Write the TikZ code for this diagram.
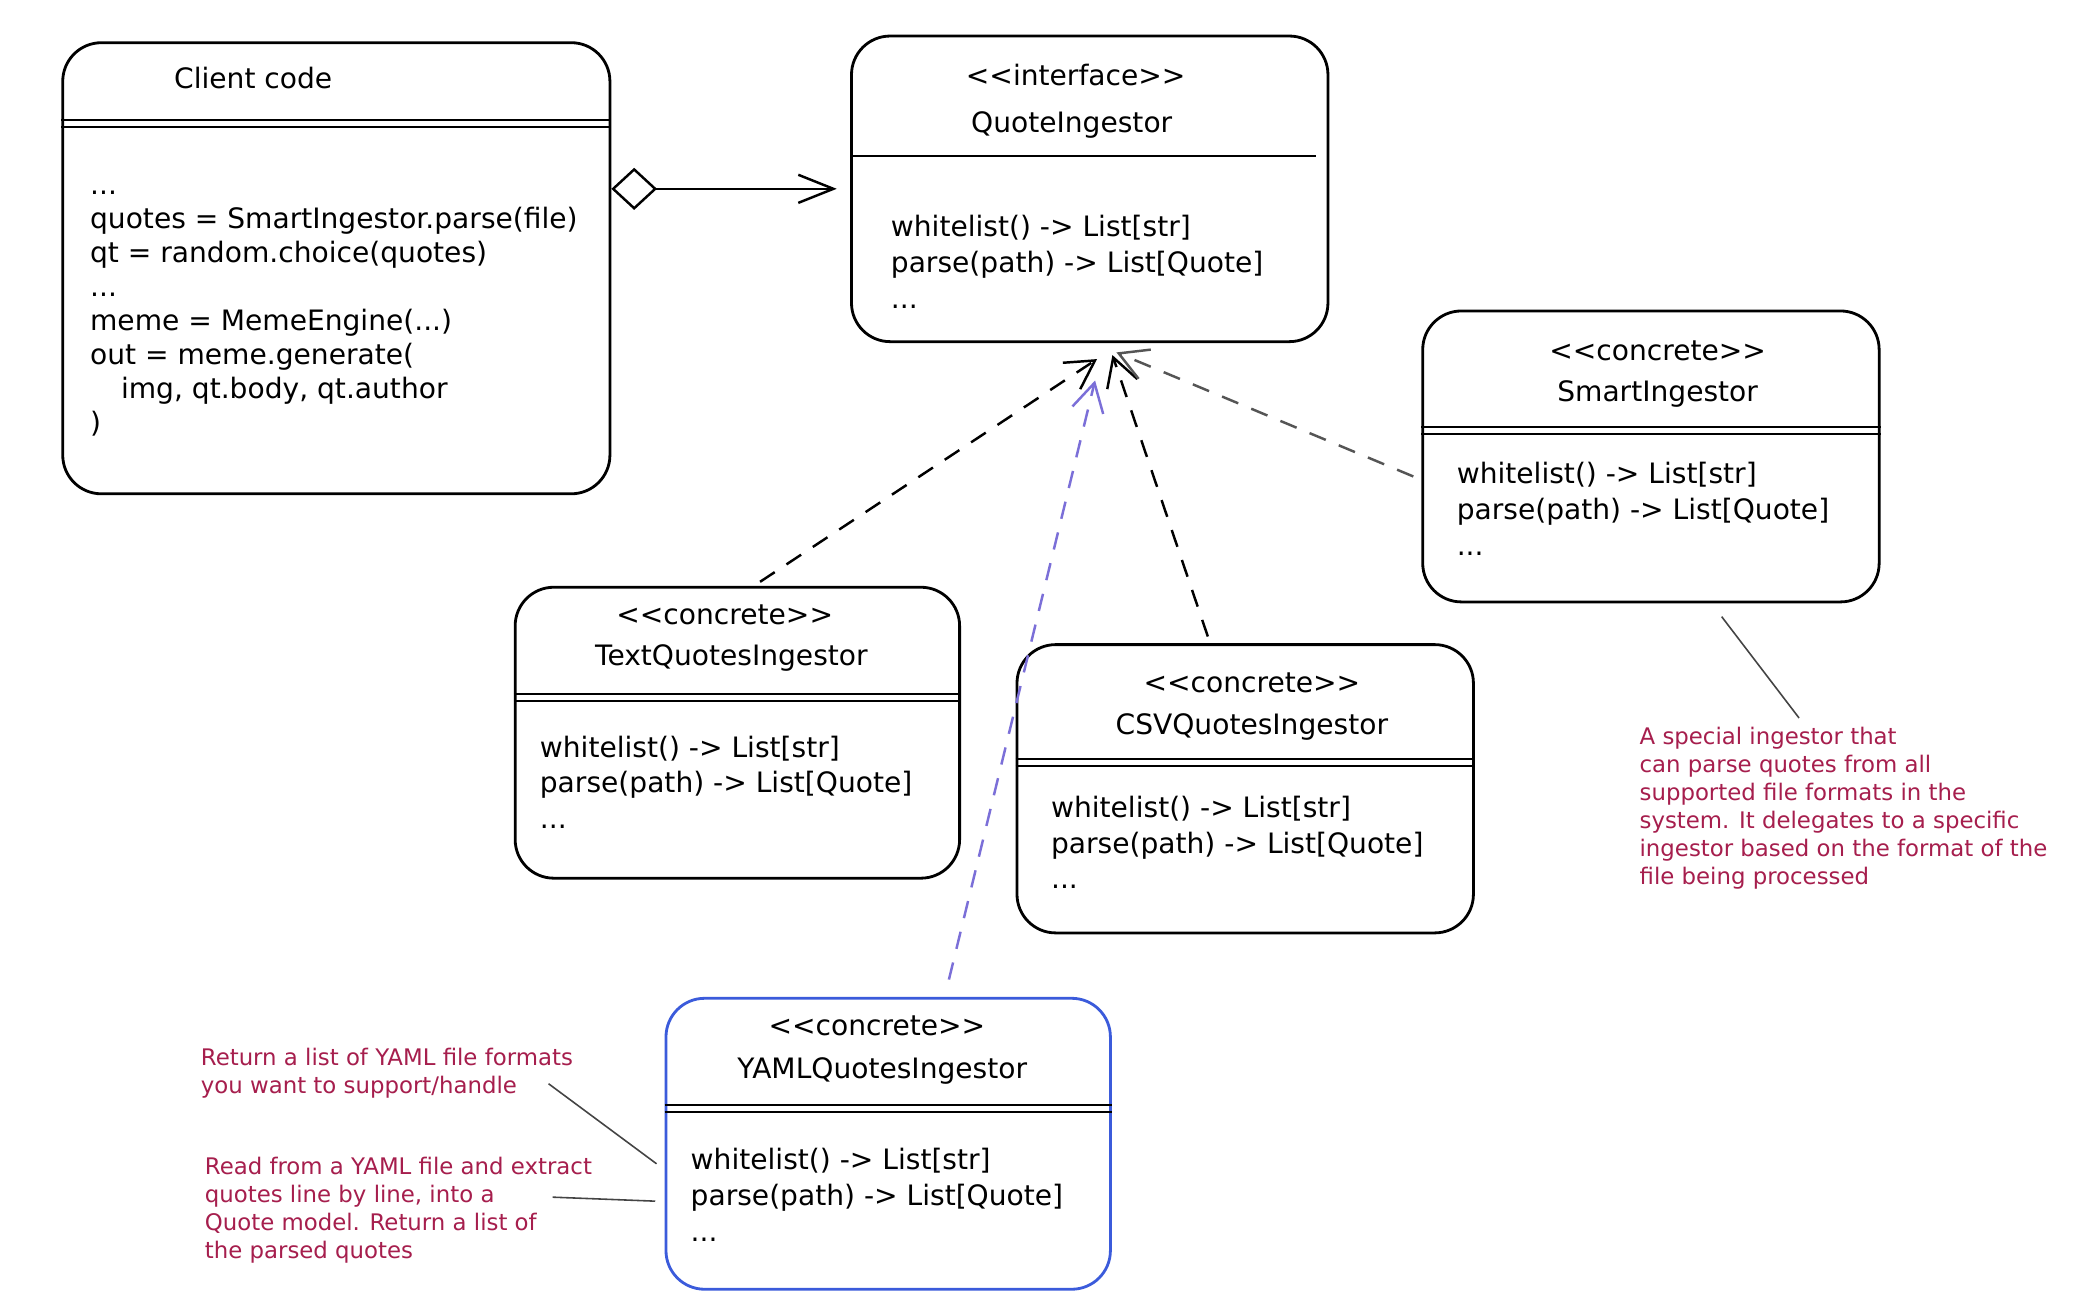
\documentclass[tikz,border=0pt]{standalone}
\usepackage{fontspec}
\setmainfont{DejaVu Sans}
\usetikzlibrary{arrows.meta,fit,calc}
\definecolor{notecol}{HTML}{A61E4D}
\definecolor{yamlblue}{HTML}{3B5BDB}
\definecolor{violetline}{HTML}{7B6FD8}
\definecolor{grayline}{HTML}{555555}
\definecolor{thinline}{HTML}{444444}
\newcommand{\stereoopen}{<\kern0pt<}
\newcommand{\stereoclose}{>\kern0pt>}
\begin{document}
\begin{tikzpicture}[x=0.013346cm,y=-0.013346cm,
  cls/.style={draw, line width=0.8pt, rounded corners=11pt, inner sep=0pt},
  txt/.style={font=\fontsize{8}{9.7}\selectfont, inner sep=0pt},
  codeblock/.style={font=\fontsize{8}{9.7}\selectfont, align=left, anchor=north west, inner sep=0pt},
  methblock/.style={font=\fontsize{8}{10.2}\selectfont, align=left, anchor=north west, inner sep=0pt},
  notetext/.style={font=\fontsize{6.5}{7.95}\selectfont, text=notecol, align=left, anchor=north west, inner sep=0pt},
  sepline/.style={line width=0.6pt},
  realize/.style={line width=0.7pt, dash pattern=on 5pt off 4pt, -{Straight Barb[length=8pt,width=9pt]}},
  notelink/.style={line width=0.45pt, draw=thinline},
  aggr/.style={line width=0.7pt, {Diamond[open,length=13pt,width=12pt]}-{Straight Barb[length=10pt,width=8pt]}}
]
\path[use as bounding box, fill=white] (0,0) rectangle (1560,981.5);

% ---------- Client code ----------
\node[cls, fit={(47,32) (457,370)}] (client) {};
\node[txt, anchor=base west] (clienttitle) at (130,66) {Client code};
\draw[sepline] (client.west |- 0,90) -- (client.east |- 0,90);
\draw[sepline] (client.west |- 0,95) -- (client.east |- 0,95);
\node[codeblock] (clientcode) at (67,127) {\strut...\\
quotes = SmartIngestor.parse(file)\\
qt = random.choice(quotes)\\
...\\
meme = MemeEngine(...)\\
out = meme.generate(\\
\hspace*{1.1em}img, qt.body, qt.author\\
)};

% ---------- QuoteIngestor ----------
\node[cls, fit={(638,27) (995,256)}] (qi) {};
\node[txt, anchor=base] (qist) at (806,64) {\stereoopen interface\stereoclose};
\node[txt, anchor=base] (qiname) at (803,99) {QuoteIngestor};
\draw[sepline] (qi.west |- 0,117) -- ($(qi.east |- 0,117)+(-10,0)$);
\node[methblock] (qimeth) at (667,158) {\strut whitelist() -> List[str]\\
parse(path) -> List[Quote]\\
...};

% ---------- SmartIngestor ----------
\node[cls, fit={(1066,233) (1408,451)}] (smart) {};
\node[txt, anchor=base] (smartst) at (1242,270) {\stereoopen concrete\stereoclose};
\node[txt, anchor=base] (smartname) at (1242,301) {SmartIngestor};
\draw[sepline] (smart.west |- 0,320) -- (smart.east |- 0,320);
\draw[sepline] (smart.west |- 0,325) -- (smart.east |- 0,325);
\node[methblock] (smartmeth) at (1091,343) {\strut whitelist() -> List[str]\\
parse(path) -> List[Quote]\\
...};

% ---------- TextQuotesIngestor ----------
\node[cls, fit={(386,440) (719,658)}] (textq) {};
\node[txt, anchor=base] (textst) at (543,468) {\stereoopen concrete\stereoclose};
\node[txt, anchor=base] (textname) at (548,499) {TextQuotesIngestor};
\draw[sepline] (textq.west |- 0,520) -- (textq.east |- 0,520);
\draw[sepline] (textq.west |- 0,525) -- (textq.east |- 0,525);
\node[methblock] (textmeth) at (404,548) {\strut whitelist() -> List[str]\\
parse(path) -> List[Quote]\\
...};

% ---------- CSVQuotesIngestor ----------
\node[cls, fit={(762,483) (1104,699)}] (csvq) {};
\node[txt, anchor=base] (csvst) at (938,519) {\stereoopen concrete\stereoclose};
\node[txt, anchor=base] (csvname) at (938,550) {CSVQuotesIngestor};
\draw[sepline] (csvq.west |- 0,569) -- (csvq.east |- 0,569);
\draw[sepline] (csvq.west |- 0,574) -- (csvq.east |- 0,574);
\node[methblock] (csvmeth) at (787,593) {\strut whitelist() -> List[str]\\
parse(path) -> List[Quote]\\
...};

% ---------- YAMLQuotesIngestor ----------
\node[cls, draw=yamlblue, fit={(499,748) (832,966)}] (yamlq) {};
\node[txt, anchor=base] (yamlst) at (657,776) {\stereoopen concrete\stereoclose};
\node[txt, anchor=base] (yamlname) at (661,808) {YAMLQuotesIngestor};
\draw[sepline] (yamlq.west |- 0,828) -- (yamlq.east |- 0,828);
\draw[sepline] (yamlq.west |- 0,833) -- (yamlq.east |- 0,833);
\node[methblock] (yamlmeth) at (517,857) {\strut whitelist() -> List[str]\\
parse(path) -> List[Quote]\\
...};

% ---------- Notes ----------
\node[notetext] (smartnote) at (1228,543) {\strut A special ingestor that\\
can parse quotes from all\\
supported file formats in the\\
system. It delegates to a specific\\
ingestor based on the format of the\\
file being processed};
\node[notetext] (returnnote) at (150,783) {\strut Return a list of YAML file formats\\
you want to support/handle};
\node[notetext] (readnote) at (153,865) {\strut Read from a YAML file and extract\\
quotes line by line, into a\\
Quote model. Return a list of\\
the parsed quotes};

% ---------- Connectors ----------
\draw[aggr] (client.east |- qi.west) -- ($(qi.west)+(-10,0)$);
\draw[realize] ($(textq.north)+(17,-3)$) -- ($(qi.south)+(5.5,12)$);
\draw[realize, draw=violetline] ($(yamlq.north)+(45.5,-13)$) -- ($(qi.south)+(4,28)$);
\draw[realize] ($(csvq.north)+(-28,-5)$) -- ($(qi.south)+(17,9)$);
\draw[realize, draw=grayline] ($(smart.west)+(-6,15)$) -- ($(qi.south)+(20,7)$);

\draw[notelink] ($(smart.south)+(53,10)$) -- ($(smartnote.north west)+(120,-5)$);
\draw[notelink] ($(returnnote.north west)+(261,29)$) -- ($(yamlq.west)+(-6,15)$);
\draw[notelink] ($(readnote.north west)+(261,32)$) -- ($(yamlq.west)+(-7,43)$);
\end{tikzpicture}
\end{document}
